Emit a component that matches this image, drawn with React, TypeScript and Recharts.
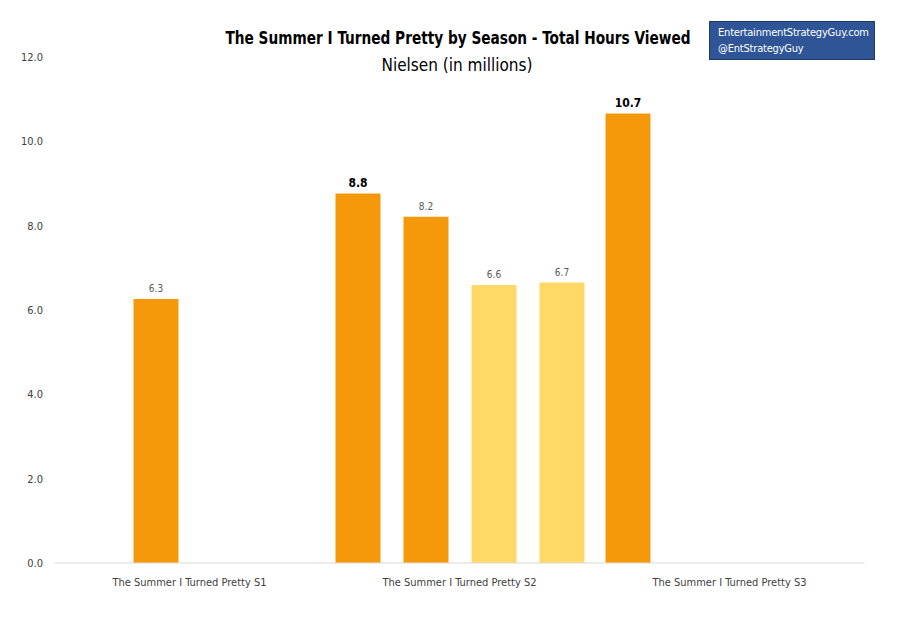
import React from "react";
import { BarChart, Bar, XAxis, YAxis, LabelList } from "recharts";

const categories = [
  "The Summer I Turned Pretty S1",
  "The Summer I Turned Pretty S2",
  "The Summer I Turned Pretty S3",
];
const seriesA = [null, 8.76, 10.66];
const seriesB = [6.26, 8.21, null];
const seriesC = [null, 6.59, null];
const seriesD = [null, 6.65, null];
const yTicks = [0, 2, 4, 6, 8, 10, 12];

const data = categories.map((name, i) => ({
  name,
  a: seriesA[i],
  b: seriesB[i],
  c: seriesC[i],
  d: seriesD[i],
}));

const FONT = "'DejaVu Sans Condensed', 'Liberation Sans', sans-serif";
const ORANGE = "#F5990B";
const YELLOW = "#FFD966";

const fmt = (v: any) => (v === null || v === undefined ? "" : Number(v).toFixed(1));

export default function App() {
  return (
    <div style={{ position: "absolute", left: 0, top: 0, width: 899, height: 621, background: "#fff", fontFamily: FONT }}>
      <BarChart
        width={899}
        height={621}
        data={data}
        margin={{ top: 57, right: 34.5, bottom: 28, left: 0 }}
        barSize={45}
        barGap={23}
      >
        <XAxis
          dataKey="name"
          axisLine={{ stroke: "#d9d9d9" }}
          tickLine={false}
          tickSize={6}
          tickMargin={9}
          height={30}
          interval={0}
          tick={{ fontSize: 11, fill: "#404040", fontFamily: FONT }}
        />
        <YAxis
          domain={[0, 12]}
          ticks={yTicks}
          width={54.5}
          axisLine={false}
          tickLine={false}
          tickSize={6}
          tickMargin={5.5}
          tickFormatter={(v: number) => v.toFixed(1)}
          tick={{ fontSize: 11, fill: "#404040", fontFamily: FONT }}
        />
        <Bar dataKey="a" fill={ORANGE} isAnimationActive={false}>
          <LabelList dataKey="a" position="top" offset={7} formatter={fmt} style={{ fontSize: 12, fontWeight: 700, fill: "#000", fontFamily: FONT }} />
        </Bar>
        <Bar dataKey="b" fill={ORANGE} isAnimationActive={false}>
          <LabelList dataKey="b" position="top" offset={7} formatter={fmt} style={{ fontSize: 10, fill: "#595959", fontFamily: FONT }} />
        </Bar>
        <Bar dataKey="c" fill={YELLOW} isAnimationActive={false}>
          <LabelList dataKey="c" position="top" offset={7} formatter={fmt} style={{ fontSize: 10, fill: "#595959", fontFamily: FONT }} />
        </Bar>
        <Bar dataKey="d" fill={YELLOW} isAnimationActive={false}>
          <LabelList dataKey="d" position="top" offset={7} formatter={fmt} style={{ fontSize: 10, fill: "#595959", fontFamily: FONT }} />
        </Bar>
      </BarChart>
      <div style={{ position: "absolute", left: 0, width: 916, top: 27, textAlign: "center", fontSize: 18, fontWeight: 700, color: "#000", lineHeight: "22px", whiteSpace: "nowrap", transform: "scaleX(0.845)", transformOrigin: "458px 0" }}>
        The Summer I Turned Pretty by Season - Total Hours Viewed
      </div>
      <div style={{ position: "absolute", left: 0, width: 914, top: 54, textAlign: "center", fontSize: 17, color: "#000", lineHeight: "22px", whiteSpace: "nowrap" }}>
        Nielsen (in millions)
      </div>
      <div style={{ position: "absolute", left: 709, top: 21, width: 166, height: 39, background: "#2F5597", border: "1px solid #1F3864", color: "#fff", fontSize: 11, letterSpacing: "-0.2px", lineHeight: "16px", padding: "3px 0 0 8px", boxSizing: "border-box", whiteSpace: "nowrap" }}>
        <div>EntertainmentStrategyGuy.com</div>
        <div>@EntStrategyGuy</div>
      </div>
    </div>
  );
}
